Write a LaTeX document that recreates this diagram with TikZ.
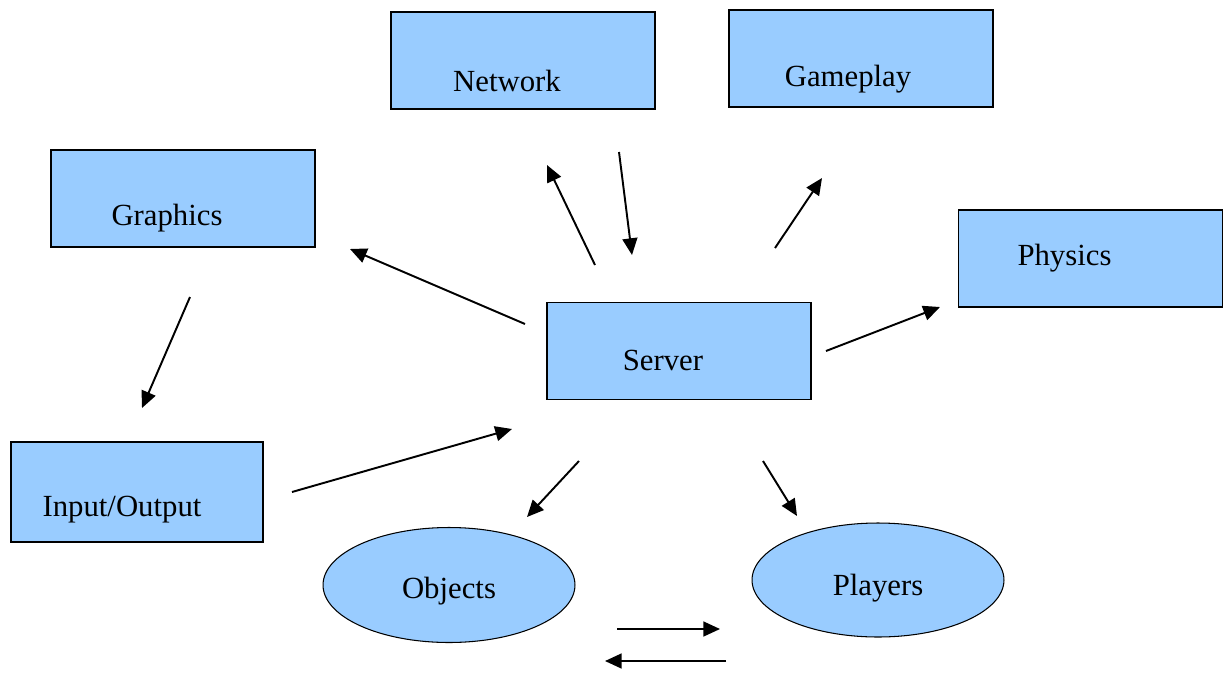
\documentclass[tikz,border=0pt]{standalone}
\usepackage{fontspec}
\setmainfont{Liberation Serif}
\usetikzlibrary{arrows.meta, shapes.geometric}
\definecolor{box1}{HTML}{99CCFF}

\begin{document}
\begin{tikzpicture}[x=0.02cm, y=-0.02cm,
    >={Triangle[length=9.5pt, width=8.5pt]},
    B/.style={rectangle, minimum width=5.28cm, minimum height=1.94cm, draw=black, fill=box1, line width=0.8pt},
    E/.style={ellipse, minimum width=5.04cm, minimum height=2.3cm, draw=black, fill=box1, line width=0.6pt},
    T/.style={font=\fontsize{17.5}{20}\selectfont},
    A/.style={->, line width=1.1pt}
]
\useasboundingbox (0,0) rectangle (1224,673);

% === BOXES ===
\node[B, label={[T, xshift=-16*0.02cm, yshift=-20*0.02cm]center:Network}] (net) at (523,60.5) {};
\node[B, label={[T, xshift=-13*0.02cm, yshift=-21*0.02cm]center:Gameplay}] (game) at (861,58.5) {};
\node[B, label={[T, xshift=-16*0.02cm, yshift=-20*0.02cm]center:Graphics}] (gfx) at (183,198.5) {};
\node[B, label={[T, xshift=-26*0.02cm]center:Physics}] (phys) at (1090.5,258.5) {};
\node[B, label={[T, xshift=-16*0.02cm, yshift=-9*0.02cm]center:Server}] (srv) at (679,351) {};
\node[B, minimum width=5.04cm, minimum height=2cm,
      label={[T, xshift=-15*0.02cm, yshift=-18*0.02cm]center:Input/Output}] (io) at (137,492) {};

% === ELLIPSES ===
\node[E, label={[T, yshift=-6*0.02cm]center:Objects}] (obj) at (449,585) {};
\node[E, minimum height=2.28cm, label={[T, yshift=-8*0.02cm]center:Players}] (ply) at (878,580) {};

% arrow ends
\coordinate (a1) at (595,265);  \coordinate (b1) at (547,165);
\coordinate (a2) at (619,152);  \coordinate (b2) at (632,255);
\coordinate (a3) at (775,248);  \coordinate (b3) at (822,178);
\coordinate (a4) at (525,324);  \coordinate (b4) at (350,249);
\coordinate (a5) at (826,351);  \coordinate (b5) at (940,307);
\coordinate (a6) at (190,297);  \coordinate (b6) at (142,408);
\coordinate (a7) at (292,492);  \coordinate (b7) at (512,429);
\coordinate (a8) at (579,461);  \coordinate (b8) at (527,517);
\coordinate (a9) at (763,461);  \coordinate (b9) at (797,516);
\coordinate (a10) at (617,629); \coordinate (b10) at (720,629);
\coordinate (a11) at (726,661); \coordinate (b11) at (605,661);

% === ARROWS ===
\foreach \i in {1,...,11}
    \draw[A] (a\i) -- (b\i);

\end{tikzpicture}
\end{document}
